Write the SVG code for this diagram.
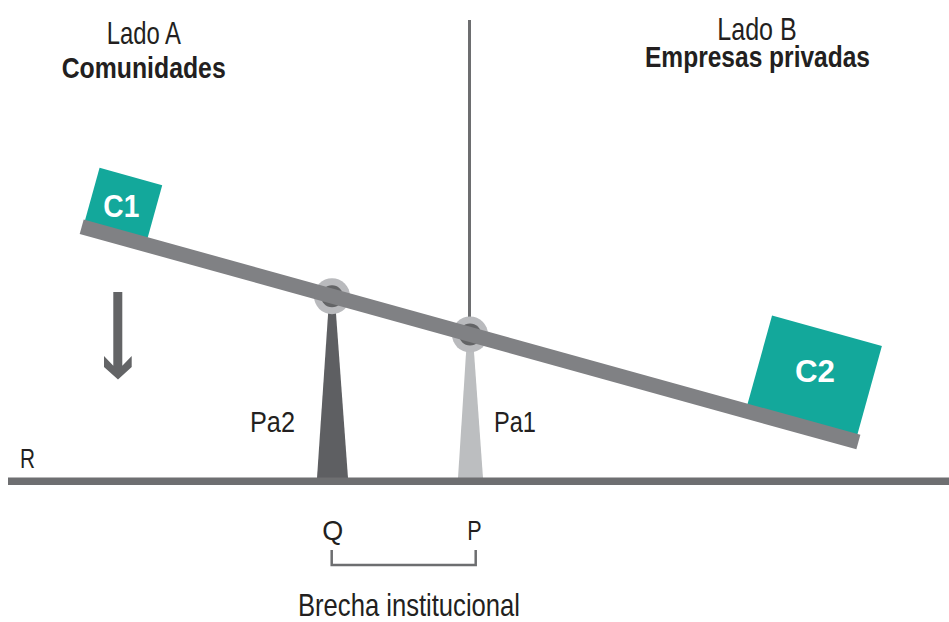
<svg xmlns="http://www.w3.org/2000/svg" width="949" height="622" viewBox="0 0 949 622">
<style>
.t{font-family:"Liberation Sans",Arial,sans-serif;fill:#231f20}
.b{font-weight:bold}
.box{fill:#13a89b}
.bl{font-family:"Liberation Sans",Arial,sans-serif;font-weight:bold;fill:#ffffff}
.ring{fill:#b9babd}
.core{fill:#636466}
</style>
<rect width="949" height="622" fill="#ffffff"/>
<g id="axis">
<line x1="469.5" y1="20" x2="469.5" y2="322" stroke="#6d6e70" stroke-width="3"/>
</g>
<g id="Pa2">
<polygon points="329,300 335,300 348,478 317,478" fill="#5e5f62"/>
<text class="t" x="250" y="432.3" font-size="29.5" textLength="45" lengthAdjust="spacingAndGlyphs">Pa2</text>
</g>
<g id="Pa1">
<polygon points="467,338 473,338 483,478 458,478" fill="#bcbec0"/>
<text class="t" x="494" y="432.3" font-size="29.5" textLength="42" lengthAdjust="spacingAndGlyphs">Pa1</text>
</g>
<g id="pivots">
<circle class="ring" cx="332" cy="296.2" r="18"/>
<circle class="core" cx="332" cy="296.2" r="11"/>
<circle class="ring" cx="470" cy="334.4" r="18"/>
<circle class="core" cx="470" cy="334.4" r="11"/>
</g>
<g id="lever" transform="translate(81.7,226.7) rotate(15.5)">
<rect class="box" x="1.5" y="-61.5" width="65" height="56"/>
<rect class="box" x="689" y="-98.8" width="114" height="93"/>
<rect x="0" y="-7.5" width="806" height="15" fill="#808184"/>
</g>
<g id="C1">
<text class="bl" x="103.3" y="216.7" font-size="30.5" textLength="36" lengthAdjust="spacingAndGlyphs">C1</text>
</g>
<g id="C2">
<text class="bl" x="795" y="382.3" font-size="32" textLength="40" lengthAdjust="spacingAndGlyphs">C2</text>
</g>
<g id="ground">
<rect x="8" y="477.5" width="941" height="7.5" fill="#6e6f71"/>
<text class="t" x="20" y="468.3" font-size="27" textLength="15" lengthAdjust="spacingAndGlyphs">R</text>
</g>
<g id="ladoA">
<text class="t" x="106.7" y="44" font-size="30.5" textLength="74.3" lengthAdjust="spacingAndGlyphs">Lado A</text>
<text class="t b" x="61.7" y="78.3" font-size="29.5" textLength="164" lengthAdjust="spacingAndGlyphs">Comunidades</text>
</g>
<g id="ladoB">
<text class="t" x="717.3" y="39.5" font-size="30.5" textLength="79.4" lengthAdjust="spacingAndGlyphs">Lado B</text>
<text class="t b" x="645" y="66.7" font-size="30" textLength="225" lengthAdjust="spacingAndGlyphs">Empresas privadas</text>
</g>
<g id="Q">
<text class="t" x="322.3" y="540" font-size="28" textLength="21" lengthAdjust="spacingAndGlyphs">Q</text>
</g>
<g id="P">
<text class="t" x="467.3" y="540" font-size="28" textLength="14.4" lengthAdjust="spacingAndGlyphs">P</text>
</g>
<g id="brecha">
<text class="t" x="298" y="616" font-size="30.5" textLength="222" lengthAdjust="spacingAndGlyphs">Brecha institucional</text>
</g>
<g id="connectors">
<polyline points="331.7,550 331.7,565 475.7,565 475.7,550" fill="none" stroke="#6d6e70" stroke-width="2.5"/>
<polygon points="113.3,292 122.3,292 122.3,365.7 131.7,356 131.7,367 118,379.5 104,367 104,356 113.3,365.7" fill="#636466"/>
</g>
</svg>
